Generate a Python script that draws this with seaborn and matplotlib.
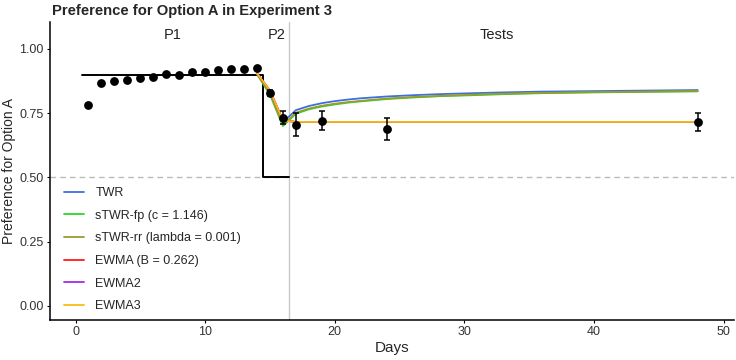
import numpy as np
import pandas as pd
import matplotlib
matplotlib.use("Agg")
import matplotlib.pyplot as plt
import seaborn as sns

# observed preference (mean and error) per day
obs_days = [1, 2, 3, 4, 5, 6, 7, 8, 9, 10, 11, 12, 13, 14, 15, 16, 17, 19, 24, 48]
obs_pref = [0.782, 0.869, 0.877, 0.881, 0.886, 0.892, 0.901, 0.899, 0.910, 0.912,
            0.918, 0.922, 0.922, 0.926, 0.829, 0.733, 0.705, 0.721, 0.688, 0.716]
obs_err = [0.004, 0.004, 0.004, 0.004, 0.004, 0.004, 0.004, 0.004, 0.004, 0.004,
           0.004, 0.004, 0.004, 0.004, 0.013, 0.025, 0.044, 0.037, 0.044, 0.035]

# programmed reward schedule
design_days = [0.5, 14.5, 14.5, 16.5]
design_pref = [0.9, 0.9, 0.5, 0.5]

# model predictions
model_days = [14, 15, 16, 17, 18, 19, 20, 21, 22, 24, 26, 28, 30, 33, 36, 40, 44, 48]
twr = [0.905, 0.835, 0.715, 0.762, 0.778, 0.789, 0.797, 0.803, 0.808, 0.815,
       0.820, 0.824, 0.827, 0.831, 0.834, 0.836, 0.838, 0.840]
stwr_fp = [0.902, 0.822, 0.700, 0.748, 0.765, 0.776, 0.784, 0.791, 0.796, 0.805,
           0.811, 0.816, 0.819, 0.824, 0.828, 0.831, 0.833, 0.835]
stwr_rr = [0.903, 0.828, 0.704, 0.752, 0.768, 0.779, 0.787, 0.793, 0.798, 0.807,
           0.813, 0.817, 0.821, 0.826, 0.829, 0.832, 0.834, 0.836]
ewma = [0.905, 0.838, 0.722, 0.716, 0.716, 0.716, 0.716, 0.716, 0.716, 0.716,
        0.716, 0.716, 0.716, 0.716, 0.716, 0.716, 0.716, 0.716]
ewma2 = [0.905, 0.838, 0.722, 0.716, 0.716, 0.716, 0.716, 0.716, 0.716, 0.716,
         0.716, 0.716, 0.716, 0.716, 0.716, 0.716, 0.716, 0.716]
ewma3 = [0.905, 0.838, 0.722, 0.716, 0.716, 0.716, 0.716, 0.716, 0.716, 0.716,
         0.716, 0.716, 0.716, 0.716, 0.716, 0.716, 0.716, 0.716]

model_names = ["TWR", "sTWR-fp (c = 1.146)", "sTWR-rr (lambda = 0.001)",
               "EWMA (B = 0.262)", "EWMA2", "EWMA3"]
model_colors = ["#3F6FDB", "#2BD42B", "#9B9B2F", "#FF1A1A", "#A52AE8", "#F7BD12"]

phase_labels = ["P1", "P2", "Tests"]
phase_x = [7.5, 15.5, 32.5]

models = pd.DataFrame({
    "Day": model_days * 6,
    "Pref": twr + stwr_fp + stwr_rr + ewma + ewma2 + ewma3,
    "Model": np.repeat(model_names, len(model_days)),
})
obs = pd.DataFrame({"Day": obs_days, "Pref": obs_pref, "Err": obs_err})

sns.set_style("white")
plt.rcParams["font.family"] = ["Liberation Sans", "DejaVu Sans"]

fig = plt.figure(figsize=(7.36, 3.6), dpi=100)
ax = fig.add_axes([50 / 736, 40 / 360, 684 / 736, 298 / 360])

ax.axhline(0.5, color="#BBBBBB", lw=1.0, ls=(0, (4, 3)), zorder=1)
ax.axvline(16.5, color="#C8C8C8", lw=1.0, zorder=1)
ax.plot(design_days, design_pref, color="black", lw=1.4, zorder=2)

sns.lineplot(data=models, x="Day", y="Pref", hue="Model", hue_order=model_names,
             palette=model_colors, lw=1.3, ax=ax, zorder=3)

ax.errorbar(obs["Day"], obs["Pref"], yerr=obs["Err"], fmt="none", ecolor="black",
            elinewidth=1.1, capsize=2.5, capthick=1.1, zorder=4)
sns.scatterplot(data=obs, x="Day", y="Pref", color="black", s=40, linewidth=0,
                ax=ax, zorder=5, legend=False)

for lab, xp in zip(phase_labels, phase_x):
    ax.text(xp, 1.055, lab, ha="center", va="center", fontsize=10.5, color="#222222")

ax.set_xlim(-1.97, 50.8)
ax.set_ylim(-0.055, 1.105)
ax.set_xticks([0, 10, 20, 30, 40, 50])
ax.set_yticks([0, 0.25, 0.5, 0.75, 1.0])
ax.set_yticklabels(["0.00", "0.25", "0.50", "0.75", "1.00"])
ax.tick_params(axis="both", labelsize=9, colors="black", length=2.5, width=0.8,
               labelcolor="#333333", left=True, bottom=True, pad=2)
ax.set_xlabel("Days", fontsize=11, labelpad=2)
ax.set_ylabel("Preference for Option A", fontsize=10)
ax.yaxis.set_label_coords(-0.05, 0.5)

for side in ["top", "right"]:
    ax.spines[side].set_visible(False)
for side in ["left", "bottom"]:
    ax.spines[side].set_color("black")
    ax.spines[side].set_linewidth(1.1)

handles, labels = ax.get_legend_handles_labels()
ax.legend(handles, labels, loc="lower left", bbox_to_anchor=(0.004, -0.012),
          frameon=False, fontsize=9, labelspacing=0.85, handlelength=1.6,
          handletextpad=0.9, borderaxespad=0.5)

fig.text(52 / 736, 1 - 11 / 360, "Preference for Option A in Experiment 3",
         fontsize=10.6, fontweight="bold", va="center", ha="left")

fig.savefig("out.png", dpi=100)
